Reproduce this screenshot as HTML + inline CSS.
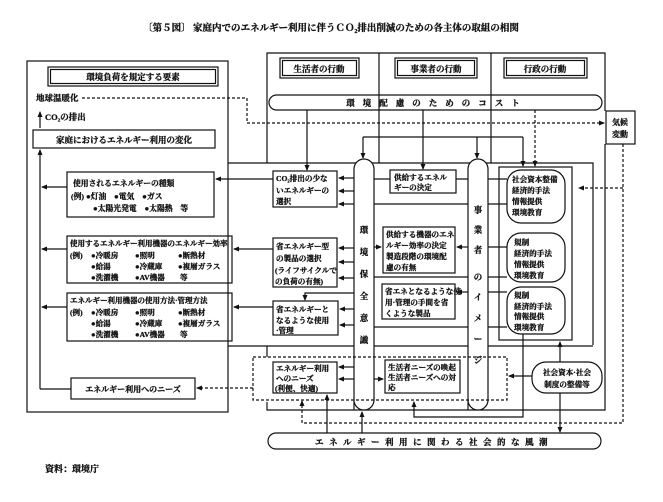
<!DOCTYPE html>
<html><head><meta charset="utf-8"><style>
body{margin:0;background:#fff}
svg{display:block}
text{font-family:"Liberation Serif","Noto Serif CJK SC","Noto Sans CJK JP",serif;font-weight:bold;fill:#111;stroke:#111;stroke-width:0.3}
</style></head><body>
<svg width="663" height="502" viewBox="0 0 663 502" xmlns="http://www.w3.org/2000/svg">
<defs>
<marker id="a" markerWidth="6" markerHeight="6" refX="5" refY="3" orient="auto" markerUnits="userSpaceOnUse"><path d="M0,0.5 L6,3 L0,5.5z" fill="#111"/></marker>
</defs>
<g stroke="#111" stroke-width="1.2" fill="none">
<rect x="27" y="61" width="201" height="351"/>
<rect x="48" y="67" width="170" height="19"/><rect x="50.5" y="69.5" width="165" height="14"/>
<rect x="33" y="130" width="182" height="18"/>
<rect x="67" y="172" width="147" height="45"/>
<rect x="67" y="236" width="165" height="47"/>
<rect x="67" y="293" width="165" height="48"/>
<rect x="71" y="378" width="124" height="21"/>
<path d="M40 389 V150" marker-end="url(#a)"/>
<path d="M40 389 H71"/>
<path d="M40 128 V112" marker-end="url(#a)"/>
<path d="M67 187 H42" marker-end="url(#a)"/>
<path d="M67 249 H42" marker-end="url(#a)"/>
<path d="M67 307 H42" marker-end="url(#a)"/>
<path d="M267 163 V53 H605 V111 M605 144 V410 H267 V402"/>
<path d="M379 53 V163 M491 53 V163"/>
<rect x="280" y="58" width="79" height="20"/><rect x="282.5" y="60.5" width="74" height="15"/>
<rect x="395" y="58" width="82" height="20"/><rect x="397.5" y="60.5" width="77" height="15"/>
<rect x="504" y="58" width="83" height="20"/><rect x="506.5" y="60.5" width="78" height="15"/>
<rect x="269" y="95" width="333" height="15" rx="7.5"/>
<rect x="606" y="111" width="29" height="33"/>
<path d="M228 163 H593 V345 M228 346 H593"/>
<path d="M267 346 V357"/>
<path d="M307 110 V170" marker-end="url(#a)"/>
<path d="M423 110 V169" marker-end="url(#a)"/>
<path d="M363 137 H523 M523 137 V166" marker-end="url(#a)"/>
<path d="M363 137 V158" marker-end="url(#a)"/><path d="M477 137 V158" marker-end="url(#a)"/>
<rect x="273" y="171" width="64" height="36"/>
<rect x="273" y="238" width="64" height="49"/>
<rect x="273" y="301" width="65" height="34"/>
<path d="M273 179 H216" marker-end="url(#a)"/>
<path d="M273 249 H234" marker-end="url(#a)"/>
<path d="M273 307 H234" marker-end="url(#a)"/>
<path d="M354 293 H305 V300" marker-end="url(#a)"/>
<path d="M354 178 H339" marker-end="url(#a)"/><path d="M354 191 H339" marker-end="url(#a)"/><path d="M354 204 H339" marker-end="url(#a)"/>
<path d="M354 248 H339" marker-end="url(#a)"/><path d="M354 262 H339" marker-end="url(#a)"/><path d="M354 278 H339" marker-end="url(#a)"/>
<path d="M354 309 H340" marker-end="url(#a)"/><path d="M354 325 H340" marker-end="url(#a)"/>
<path d="M354 367 H339" marker-end="url(#a)"/><path d="M354 379 H339" marker-end="url(#a)"/>
<path d="M354 410 V169 A10 10 0 0 1 374 169 V400 A10 10 0 0 1 354 400" fill="#fff"/>
<path d="M468 410 V169 A10 10 0 0 1 488 169 V400 A10 10 0 0 1 468 400" fill="#fff"/>
<rect x="390" y="170" width="66" height="23"/>
<rect x="383" y="227" width="72" height="46"/>
<rect x="382" y="284" width="73" height="35"/>
<rect x="385" y="360" width="75" height="33"/>
<path d="M374 179 H390 M456 179 H468 M488 179 H507"/>
<path d="M374 204 H468 M488 204 H507"/>
<path d="M488 247 H507"/>
<path d="M374 247 H381" marker-end="url(#a)"/>
<path d="M468 247 H457" marker-end="url(#a)"/>
<path d="M374 277 H468 M488 277 H507"/>
<path d="M468 292 H457" marker-end="url(#a)"/>
<path d="M488 292 H507"/>
<path d="M374 327 H468 M488 327 H507"/>
<path d="M374 379 H383" marker-end="url(#a)"/>
<rect x="499" y="167" width="73" height="173"/>
<rect x="507" y="170" width="58" height="53" rx="14"/>
<rect x="507" y="233" width="58" height="49" rx="14"/>
<rect x="507" y="287" width="58" height="47" rx="14"/>
<rect x="532" y="362" width="70" height="31" rx="14"/>
<path d="M560 362 V342" marker-end="url(#a)"/>
<path d="M560 393 V432" marker-end="url(#a)"/>
<path d="M532 376 H509" marker-end="url(#a)"/>
<path d="M523 334 V417 H414 V402" marker-end="url(#a)"/>
<rect x="268" y="433" width="333" height="16" rx="8"/>
<path d="M327 433 V395" marker-end="url(#a)"/>
<path d="M362 433 V412" marker-end="url(#a)"/>
<rect x="273" y="362" width="64" height="31"/>
</g>
<g stroke="#111" stroke-width="1.2" fill="none" stroke-dasharray="3,2">
<path d="M82 98 H247 V123 H604" marker-end="url(#a)"/>
<path d="M535 110 V166" marker-end="url(#a)"/>
<path d="M623 144 V423 H302 V401" marker-end="url(#a)"/>
<path d="M623 188 H579" marker-end="url(#a)"/>
<rect x="253" y="357" width="254" height="43"/>
<path d="M253 388 H197" marker-end="url(#a)"/>
</g>
<g font-size="9">
<text x="331" y="31" text-anchor="middle" font-size="9.5">〔第５図〕 家庭内でのエネルギー利用に伴うＣＯ₂排出削減のための各主体の取組の相関</text>
<text x="133" y="80" text-anchor="middle" font-size="8.5">環境負荷を規定する要素</text>
<text x="36" y="101" font-size="8.5">地球温暖化</text>
<text x="45" y="120" font-size="8.5">CO₂の排出</text>
<text x="124" y="143" text-anchor="middle" font-size="8.5">家庭におけるエネルギー利用の変化</text>
<text x="133" y="392" text-anchor="middle" font-size="8">エネルギー利用へのニーズ</text>
<text x="45" y="472" font-size="9">資料：環境庁</text>
<text x="319" y="72" text-anchor="middle" font-size="8.5">生活者の行動</text>
<text x="436" y="72" text-anchor="middle" font-size="8.5">事業者の行動</text>
<text x="545" y="72" text-anchor="middle" font-size="8.5">行政の行動</text>
<text x="437" y="106" text-anchor="middle" font-size="8.5" letter-spacing="8">環境配慮のためのコスト</text>
<text x="620" y="125" text-anchor="middle" font-size="8">気候</text>
<text x="620" y="137" text-anchor="middle" font-size="8">変動</text>
<text x="434" y="445" text-anchor="middle" font-size="8.5" letter-spacing="5.5">エネルギー利用に関わる社会的な風潮</text>
</g>
<g font-size="7.8">
<text x="73" y="186">使用されるエネルギーの種類</text>
<text x="71" y="199">(例) ●灯油　●電気　●ガス</text>
<text x="93" y="211">●太陽光発電　●太陽熱　等</text>
<text x="70" y="246" font-size="7.5">使用するエネルギー利用機器のエネルギー効率</text>
<text x="70" y="303" font-size="7.5">エネルギー利用機器の使用方法·管理方法</text>
</g>
<g font-size="7.6">
<text x="70" y="258">(例)</text><text x="91" y="258">●冷暖房</text><text x="135" y="258">●照明</text><text x="178" y="258">●断熱材</text>
<text x="91" y="269">●給湯</text><text x="135" y="269">●冷蔵庫</text><text x="178" y="269">●複層ガラス</text>
<text x="91" y="280">●洗濯機</text><text x="135" y="280">●AV機器</text><text x="180" y="280">等</text>
<text x="70" y="315">(例)</text><text x="91" y="315">●冷暖房</text><text x="135" y="315">●照明</text><text x="178" y="315">●断熱材</text>
<text x="91" y="326">●給湯</text><text x="135" y="326">●冷蔵庫</text><text x="178" y="326">●複層ガラス</text>
<text x="91" y="337">●洗濯機</text><text x="135" y="337">●AV機器</text><text x="180" y="337">等</text>
<text x="276" y="181">CO₂排出の少な</text><text x="276" y="193">いエネルギーの</text><text x="276" y="204">選択</text>
<text x="276" y="249">省エネルギー型</text><text x="276" y="261">の製品の選択</text><text x="275" y="273">(ライフサイクルで</text><text x="275" y="284">の負荷の有無)</text>
<text x="276" y="312">省エネルギーと</text><text x="276" y="323">なるような使用</text><text x="276" y="333">·管理</text>
<text x="394" y="180">供給するエネル</text><text x="394" y="190">ギーの決定</text>
<text x="386" y="237">供給する機器のエネ</text><text x="386" y="248">ルギー効率の決定</text><text x="386" y="259">製造段階の環境配</text><text x="386" y="270">慮の有無</text>
<text x="385" y="294">省エネとなるような使</text><text x="385" y="305">用·管理の手間を省</text><text x="385" y="316">くような製品</text>
<text x="512" y="182">社会資本整備</text><text x="512" y="193">経済的手法</text><text x="512" y="204">情報提供</text><text x="512" y="215">環境教育</text>
<text x="514" y="245">規制</text><text x="514" y="256">経済的手法</text><text x="514" y="267">情報提供</text><text x="514" y="278">環境教育</text>
<text x="514" y="298">規制</text><text x="514" y="309">経済的手法</text><text x="514" y="319">情報提供</text><text x="514" y="330">環境教育</text>
<text x="276" y="371">エネルギー利用</text><text x="276" y="381">へのニーズ</text><text x="275" y="391">(利便、快適)</text>
<text x="388" y="370">生活者ニーズの喚起</text><text x="388" y="380">生活者ニーズへの対</text><text x="388" y="390">応</text>
<text x="567" y="375" text-anchor="middle">社会資本·社会</text><text x="567" y="387" text-anchor="middle">制度の整備等</text>
</g>
<g font-size="8.5" text-anchor="middle">
<text x="364" y="233">環</text><text x="364" y="255">境</text><text x="364" y="277">保</text><text x="364" y="299">全</text><text x="364" y="321">意</text><text x="364" y="343">識</text>
<text x="478" y="213">事</text><text x="478" y="233">業</text><text x="478" y="253">者</text><text x="478" y="280">の</text><text x="478" y="300">イ</text><text x="478" y="321">メ</text><text x="478" y="342">ー</text><text x="478" y="363">ジ</text>
</g>
</svg>
</body></html>
